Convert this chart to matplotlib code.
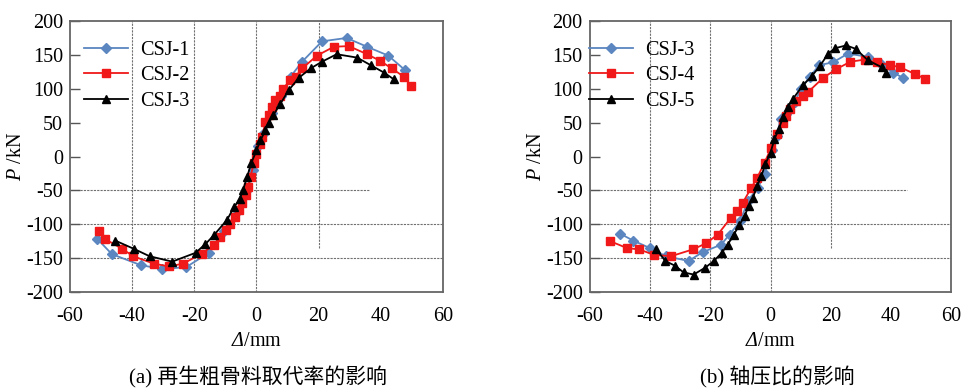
import matplotlib.pyplot as plt

plt.rcParams['font.family'] = ['Liberation Serif', 'Noto Sans CJK SC']
plt.rcParams['axes.unicode_minus'] = False
plt.rcParams['mathtext.fontset'] = 'custom'
plt.rcParams['mathtext.it'] = 'Liberation Serif:italic'
plt.rcParams['mathtext.rm'] = 'Liberation Serif'
# italic slot for the capital Greek delta (mathtext keeps \mathit Greek capitals upright)
plt.rcParams['mathtext.sf'] = 'Liberation Serif:italic'

# (a) effect of recycled coarse aggregate replacement ratio
csj1_x = [-51.3, -46.5, -37.3, -30.4, -22.6, -15.3, -10.5, -6, -3, -1, 0.5, 2.5, 5, 8, 11,
          14.7, 21.1, 29, 35.6, 42.4, 47.7]
csj1_y = [-121, -144, -160, -166, -163, -142, -110, -80, -50, -20, 15, 35, 65, 90, 118,
          140, 170, 175, 162, 149, 128]
csj2_x = [-50.7, -48.6, -43.2, -39.7, -33, -28.2, -23.6, -17.5, -13.7, -11.6, -9.7, -8.4, -7,
          -5.7, -4.6, -3.5, -2.7, -1.9, -0.9, 0, 1.1, 1.8, 2.9, 4, 5, 6.1, 7.7, 8.6, 10.9,
          12.6, 14.7, 19.5, 24.9, 29.7, 35.6, 39.9, 43.5, 47.4, 49.8]
csj2_y = [-110, -122, -136, -147, -158, -162, -158, -143, -130, -119, -109, -99, -89,
          -79, -69, -57, -45, -30, -10, 4, 19, 29, 51, 61, 73, 83, 90, 100, 113,
          118, 130, 149, 162, 163, 151, 141, 130, 118, 104]
csj3a_x = [-45.4, -39.5, -34.4, -27.1, -19.6, -16.4, -13.7, -9.4, -7.3, -5.4, -4.3, -3, -1.7,
           0, 1.3, 2.9, 4, 5.4, 7.7, 10.4, 13.6, 17.4, 21.1, 25.8, 32.4, 36.7, 41, 44.2]
csj3a_y = [-124, -136, -147, -155, -142, -129, -116, -93, -75, -63, -49, -30, -10,
           9, 24, 39, 50, 61, 78, 98, 116, 130, 140, 151, 146, 135, 124, 114]

# (b) effect of axial compression ratio
csj3b_x = [-49.8, -45.5, -40, -34.7, -27.2, -22.5, -16.4, -13.6, -10, -7.5, -4.2, -2, 0.5, 2,
           3.3, 5.2, 8, 10.2, 13, 16.2, 20.7, 25.7, 32.3, 36.5, 40.6, 44]
csj3b_y = [-114, -124, -135, -147, -154, -141, -130, -115, -95, -65, -46, -25, 10, 30,
           55, 63, 81, 100, 118, 135, 139, 152, 147, 137, 124, 116]
csj4_x = [-53.1, -47.6, -43.5, -38.7, -33, -25.8, -21.4, -17.5, -13.1, -11.1, -9.2, -6.4, -4.4,
          -2, 0.2, 2.2, 4.1, 5.2, 6.3, 8.5, 10.7, 12.4, 17.4, 21.8, 26.5, 31.2, 35.4, 39.5,
          42.8, 47.8, 51.1]
csj4_y = [-125, -135, -137, -145, -147, -137, -128, -115, -90, -81, -68, -46, -31,
          -9, 13, 33, 50, 60, 70, 82, 90, 95, 116, 129, 140, 143, 139, 135,
          132, 122, 115]
csj5_x = [-38, -34.9, -31.7, -28.8, -25.5, -21.7, -18.8, -16.2, -14.2, -12.2, -10.3, -8.6, -7.2,
          -5.9, -4.4, -3.1, -1.7, 0, 1.3, 2.7, 4.1, 5.8, 7.4, 10.7, 13.7, 16.3, 19.1, 21.5,
          25.1, 28.2, 32.3, 36.8, 38.4]
csj5_y = [-136, -154, -161, -171, -174, -164, -154, -142, -130, -115, -101, -87, -73,
          -61, -43, -29, -11, 6, 26, 40, 58, 73, 85, 105, 119, 133, 152, 160,
          164, 159, 142, 132, 124]

xticks = [-60, -40, -20, 0, 20, 40, 60]
yticks = [-200, -150, -100, -50, 0, 50, 100, 150, 200]

BLUE = '#5b86c0'
RED = '#f01818'
BLACK = '#000000'
GRID = '#707070'

panels = [
    dict(pos=[0.0725, 0.249, 0.3865, 0.697], caption='(a) 再生粗骨料取代率的影响', cx=0.267,
         series=[('CSJ-1', csj1_x, csj1_y, BLUE, 'D'),
                 ('CSJ-2', csj2_x, csj2_y, RED, 's'),
                 ('CSJ-3', csj3a_x, csj3a_y, BLACK, '^')],
         hend=36.5, legend_anchor=(0.005, 0.97)),
    dict(pos=[0.611, 0.249, 0.375, 0.697], caption='(b) 轴压比的影响', cx=0.806,
         series=[('CSJ-3', csj3b_x, csj3b_y, BLUE, 'D'),
                 ('CSJ-4', csj4_x, csj4_y, RED, 's'),
                 ('CSJ-5', csj5_x, csj5_y, BLACK, '^')],
         hend=45.4, legend_anchor=(-0.035, 0.97)),
]

fig = plt.figure(figsize=(9.65, 3.89), dpi=100)

for p in panels:
    ax = fig.add_axes(p['pos'])
    ax.set_xlim(-60, 60)
    ax.set_ylim(-200, 200)

    # partial dashed guide lines
    for gx in [-40, -20, 0]:
        ax.axvline(gx, color=GRID, lw=0.8, ls=(0, (2, 1)), zorder=1)
    ax.vlines(20, -135, 200, color=GRID, lw=0.8, ls=(0, (2, 1)), zorder=1)
    for gy in [-100, -150]:
        ax.axhline(gy, color=GRID, lw=0.8, ls=(0, (2, 1)), zorder=1)
    ax.hlines(-50, -60, p['hend'], color=GRID, lw=0.8, ls=(0, (2, 1)), zorder=1)

    for name, xs, ys, c, m in p['series']:
        ms = 5 if m == 'D' else 6
        ax.plot(xs, ys, color=c, marker=m, ms=ms, lw=1.3, label=name, zorder=3)

    ax.set_xticks(xticks)
    ax.set_yticks(yticks)
    ax.tick_params(axis='x', length=0, pad=11, labelsize=14.5)
    ax.tick_params(axis='y', direction='in', length=7, width=1, pad=5, labelsize=14.5,
                   color='#555555')
    for s in ax.spines.values():
        s.set_color('#666666')
        s.set_linewidth(1.3)

    ax.set_xlabel(r'$\mathsf{Δ}$/mm', fontsize=14.5, labelpad=4)
    ax.set_ylabel(r'$P$ /kN', fontsize=14.5, labelpad=0)

    ax.legend(loc='upper left', bbox_to_anchor=p['legend_anchor'], frameon=False,
              fontsize=14.5, handlelength=2.2, handletextpad=0.6, labelspacing=0.3,
              borderaxespad=0.2)

    fig.text(p['cx'], 0.031, p['caption'], ha='center', va='center', fontsize=15)

fig.savefig('out.png', dpi=100)
